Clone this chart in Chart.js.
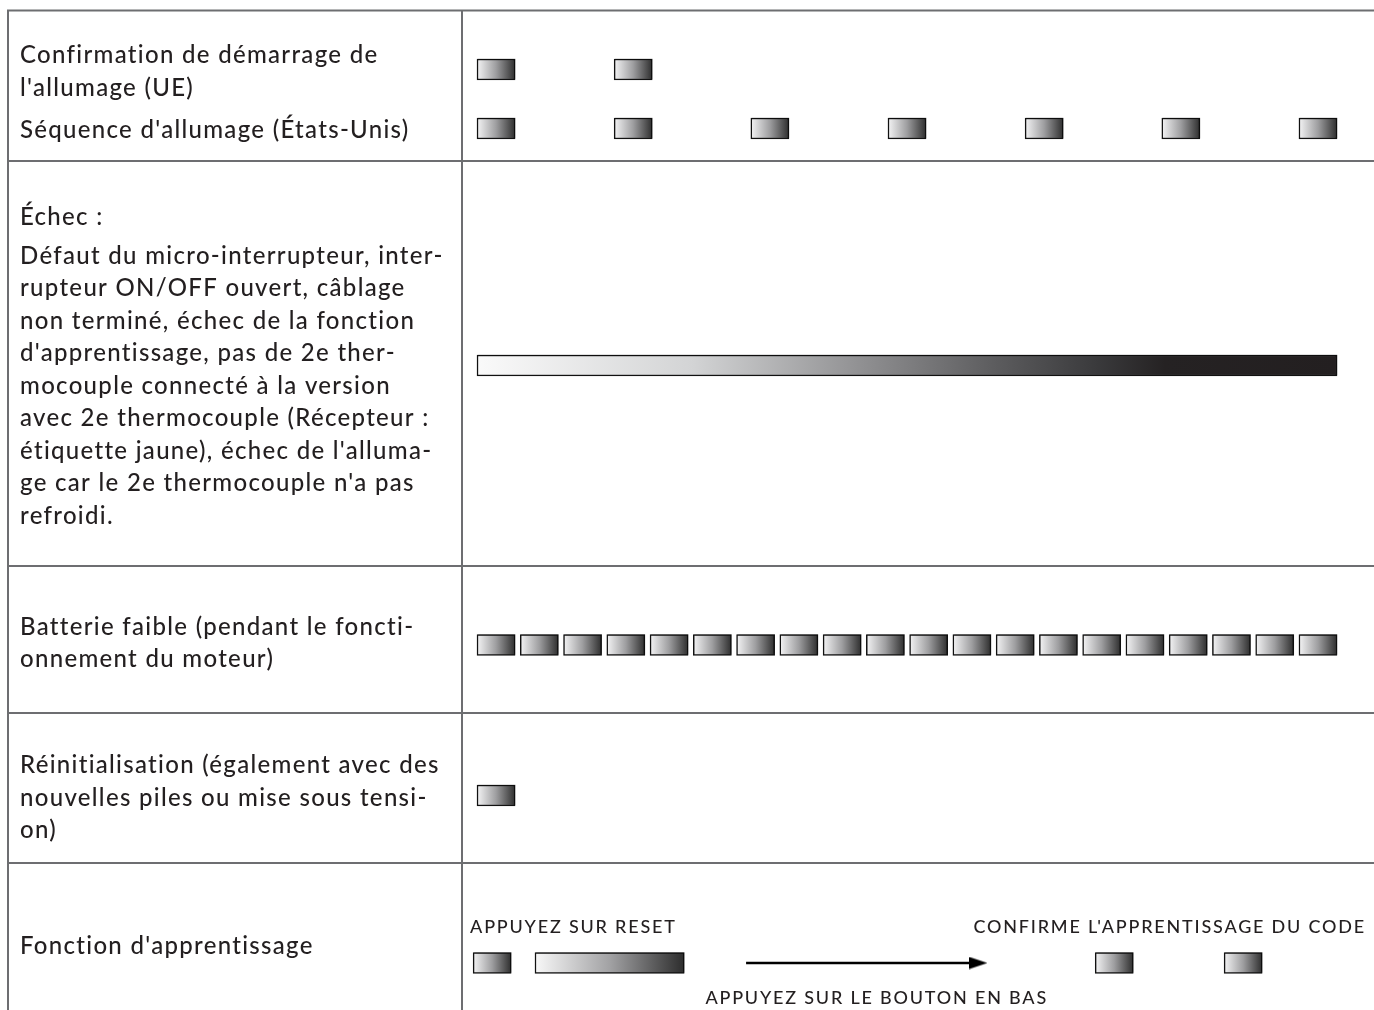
<!DOCTYPE html>
<html>
<head>
<meta charset="utf-8">
<script src="https://cdn.jsdelivr.net/npm/chart.js@4/dist/chart.umd.min.js"></script>
<style>html,body{margin:0;padding:0;background:#ffffff;}canvas{display:block;}</style>
</head>
<body>
<canvas id="c" width="1374" height="1010"></canvas>
<script>
// ---------- DATA ----------
const rowLabels = [
  ["Confirmation de démarrage de", "l'allumage (UE)"],
  ["Séquence d'allumage (États-Unis)"],
  ["Échec :"],
  ["Défaut du micro-interrupteur, inter-",
   "rupteur ON/OFF ouvert, câblage",
   "non terminé, échec de la fonction",
   "d'apprentissage, pas de 2e ther-",
   "mocouple connecté à la version",
   "avec 2e thermocouple (Récepteur :",
   "étiquette jaune), échec de l'alluma-",
   "ge car le 2e thermocouple n'a pas",
   "refroidi."],
  ["Batterie faible (pendant le foncti-", "onnement du moteur)"],
  ["Réinitialisation (également avec des", "nouvelles piles ou mise sous tensi-", "on)"],
  ["Fonction d'apprentissage"]
];
// pulse start times (time unit = one low-battery blink period)
const uePulses = [0, 3.17];
const usPulses = [0, 3.17, 6.33, 9.5, 12.67, 15.83, 19.0];
const failureSpans = [[0, 19.88]];
const batteryPulses = [0, 1, 2, 3, 4, 5, 6, 7, 8, 9, 10, 11, 12, 13, 14, 15, 16, 17, 18, 19];
const resetPulses = [0];
const learnSpans = [[-0.09, 0.79], [1.34, 4.79], [14.29, 15.17], [17.27, 18.15]];
const learnArrow = [6.22, 11.59];
const learnNotes = ["APPUYEZ SUR RESET", "CONFIRME L'APPRENTISSAGE DU CODE", "APPUYEZ SUR LE BOUTON EN BAS"];
const pulseWidth = 0.88;

// ---------- LAYOUT ----------
const LAYOUT = {
  labelAnchors: [72, 130, 217, 386, 643.5, 798, 946],
  lanes: { ue: 69.5, us: 128.5, failure: 365.5, battery: 645, reset: 795.5, learn: 963 },
  rowLines: [10.5, 161, 566, 713, 863],
  tableLeft: 8,
  labelLeft: 20,
  labelColWidth: 442,
  noteAnchors: [
    { x: -0.16, y: 927, align: 'left' },
    { x: 20.55, y: 927, align: 'right' },
    { x: 5.28, y: 998, align: 'left' }
  ],
  xMin: -0.347, xMax: 20.735,
  yMin: 0, yMax: 1010,
  barThickness: 21
};
const FONT = 'Lato';
const TEXT = '#231f20';
const LINE = '#6d6e71';

const boxStops = [[0, '#f4f4f5'], [0.5, '#9e9ea0'], [1, '#2e2e2e']];
const failStops = [[0, '#fafafa'], [0.25, '#d3d4d5'], [0.45, '#8f8f91'], [0.6, '#5d5d5f'], [0.72, '#3a3a3c'], [0.8, '#252223'], [1, '#231f20']];
const longStops = [[0, '#f8f8f8'], [0.5, '#a2a2a4'], [1, '#2d2d2d']];

function gradient(stops) {
  return (c) => {
    const chart = c.chart;
    if (!chart.chartArea || !c.raw) return '#999';
    const xs = chart.scales.x;
    const x0 = xs.getPixelForValue(c.raw.x[0]);
    const x1 = xs.getPixelForValue(c.raw.x[1]);
    const g = chart.ctx.createLinearGradient(x0, 0, x1, 0);
    stops.forEach(([o, col]) => g.addColorStop(o, col));
    return g;
  };
}
const pulses = (starts, lane) => starts.map(s => ({ x: [s, s + pulseWidth], y: lane }));
const spans = (arr, lane) => arr.map(([a, b]) => ({ x: [a, b], y: lane }));

function barSet(label, data, bg) {
  return {
    type: 'bar', label, data,
    backgroundColor: bg,
    borderColor: '#111111',
    borderWidth: 1.5,
    borderSkipped: false,
    barThickness: LAYOUT.barThickness,
    grouped: false
  };
}

const L = LAYOUT.lanes;
const learnData = spans(learnSpans, L.learn);
const learnBg = (c) => (c.dataIndex === 1 ? gradient(longStops)(c) : gradient(boxStops)(c));

// arrow head as a custom point style
const head = document.createElement('canvas');
head.width = 18; head.height = 13;
(function () {
  const h = head.getContext('2d');
  h.fillStyle = '#000';
  h.beginPath(); h.moveTo(0, 0.5); h.lineTo(18, 6.5); h.lineTo(0, 12.5); h.closePath(); h.fill();
})();

const spacingPlugin = {
  id: 'spacing',
  beforeDraw(chart) { chart.ctx.letterSpacing = '1.3px'; }
};

const tablePlugin = {
  id: 'table',
  beforeDatasetsDraw(chart) {
    const { ctx, scales: { y }, chartArea, width } = chart;
    const top = y.getPixelForValue(LAYOUT.rowLines[0]);
    const bottom = chart.height;
    ctx.save();
    ctx.strokeStyle = LINE;
    ctx.lineWidth = 2;
    ctx.beginPath();
    LAYOUT.rowLines.forEach(v => {
      const py = y.getPixelForValue(v);
      ctx.moveTo(LAYOUT.tableLeft - 1, py);
      ctx.lineTo(width, py);
    });
    ctx.moveTo(LAYOUT.tableLeft, top);
    ctx.lineTo(LAYOUT.tableLeft, bottom);
    ctx.moveTo(chartArea.left, top);
    ctx.lineTo(chartArea.left, bottom);
    ctx.stroke();
    ctx.restore();
  }
};

const shadowPlugin = {
  id: 'barShadow',
  beforeDatasetDraw(chart, args) {
    if (args.meta.type !== 'bar') return;
    const ctx = chart.ctx;
    ctx.save();
    ctx.shadowColor = 'rgba(0,0,0,0.3)';
    ctx.shadowOffsetX = 1;
    ctx.shadowOffsetY = -1;
    ctx.shadowBlur = 0;
  },
  afterDatasetDraw(chart, args) {
    if (args.meta.type !== 'bar') return;
    chart.ctx.restore();
  }
};

const notesPlugin = {
  id: 'notes',
  afterDatasetsDraw(chart) {
    const { ctx, scales: { x, y } } = chart;
    ctx.save();
    ctx.fillStyle = TEXT;
    ctx.font = '500 18px ' + FONT;
    ctx.letterSpacing = '1.8px';
    ctx.textBaseline = 'middle';
    learnNotes.forEach((t, i) => {
      const a = LAYOUT.noteAnchors[i];
      ctx.textAlign = a.align;
      ctx.fillText(t, x.getPixelForValue(a.x), y.getPixelForValue(a.y));
    });
    ctx.restore();
  }
};

new Chart(document.getElementById('c'), {
  data: {
    datasets: [
      barSet('UE', pulses(uePulses, L.ue), gradient(boxStops)),
      barSet('US', pulses(usPulses, L.us), gradient(boxStops)),
      barSet('Échec', spans(failureSpans, L.failure), gradient(failStops)),
      barSet('Batterie', pulses(batteryPulses, L.battery), gradient(boxStops)),
      barSet('Reset', pulses(resetPulses, L.reset), gradient(boxStops)),
      barSet('Apprentissage', learnData, learnBg),
      {
        type: 'line', label: 'flèche',
        data: learnArrow.map(v => ({ x: v, y: L.learn })),
        borderColor: '#000', borderWidth: 2.4,
        pointRadius: [0, 6], pointStyle: head,
        pointBackgroundColor: '#000', pointBorderWidth: 0
      }
    ]
  },
  options: {
    indexAxis: 'y',
    responsive: false,
    animation: false,
    events: [],
    layout: { autoPadding: false, padding: { left: LAYOUT.labelLeft, right: 0, top: 0, bottom: 0 } },
    plugins: { legend: { display: false }, tooltip: { enabled: false } },
    scales: {
      x: { type: 'linear', display: false, offset: false, min: LAYOUT.xMin, max: LAYOUT.xMax },
      y: {
        type: 'linear', position: 'left', reverse: true, offset: false,
        min: LAYOUT.yMin, max: LAYOUT.yMax,
        grid: { display: false, drawTicks: false, offset: false },
        border: { display: false },
        afterBuildTicks(scale) { scale.ticks = LAYOUT.labelAnchors.map(v => ({ value: v })); },
        afterFit(scale) { scale.width = LAYOUT.labelColWidth; scale.paddingTop = 0; scale.paddingBottom = 0; },
        ticks: {
          autoSkip: false,
          crossAlign: 'far',
          padding: 0,
          color: TEXT,
          font: { family: FONT, size: 24, weight: 500, lineHeight: '32.5px' },
          callback: (v, i) => rowLabels[i]
        }
      }
    }
  },
  plugins: [spacingPlugin, tablePlugin, shadowPlugin, notesPlugin]
});
</script>
</body>
</html>
